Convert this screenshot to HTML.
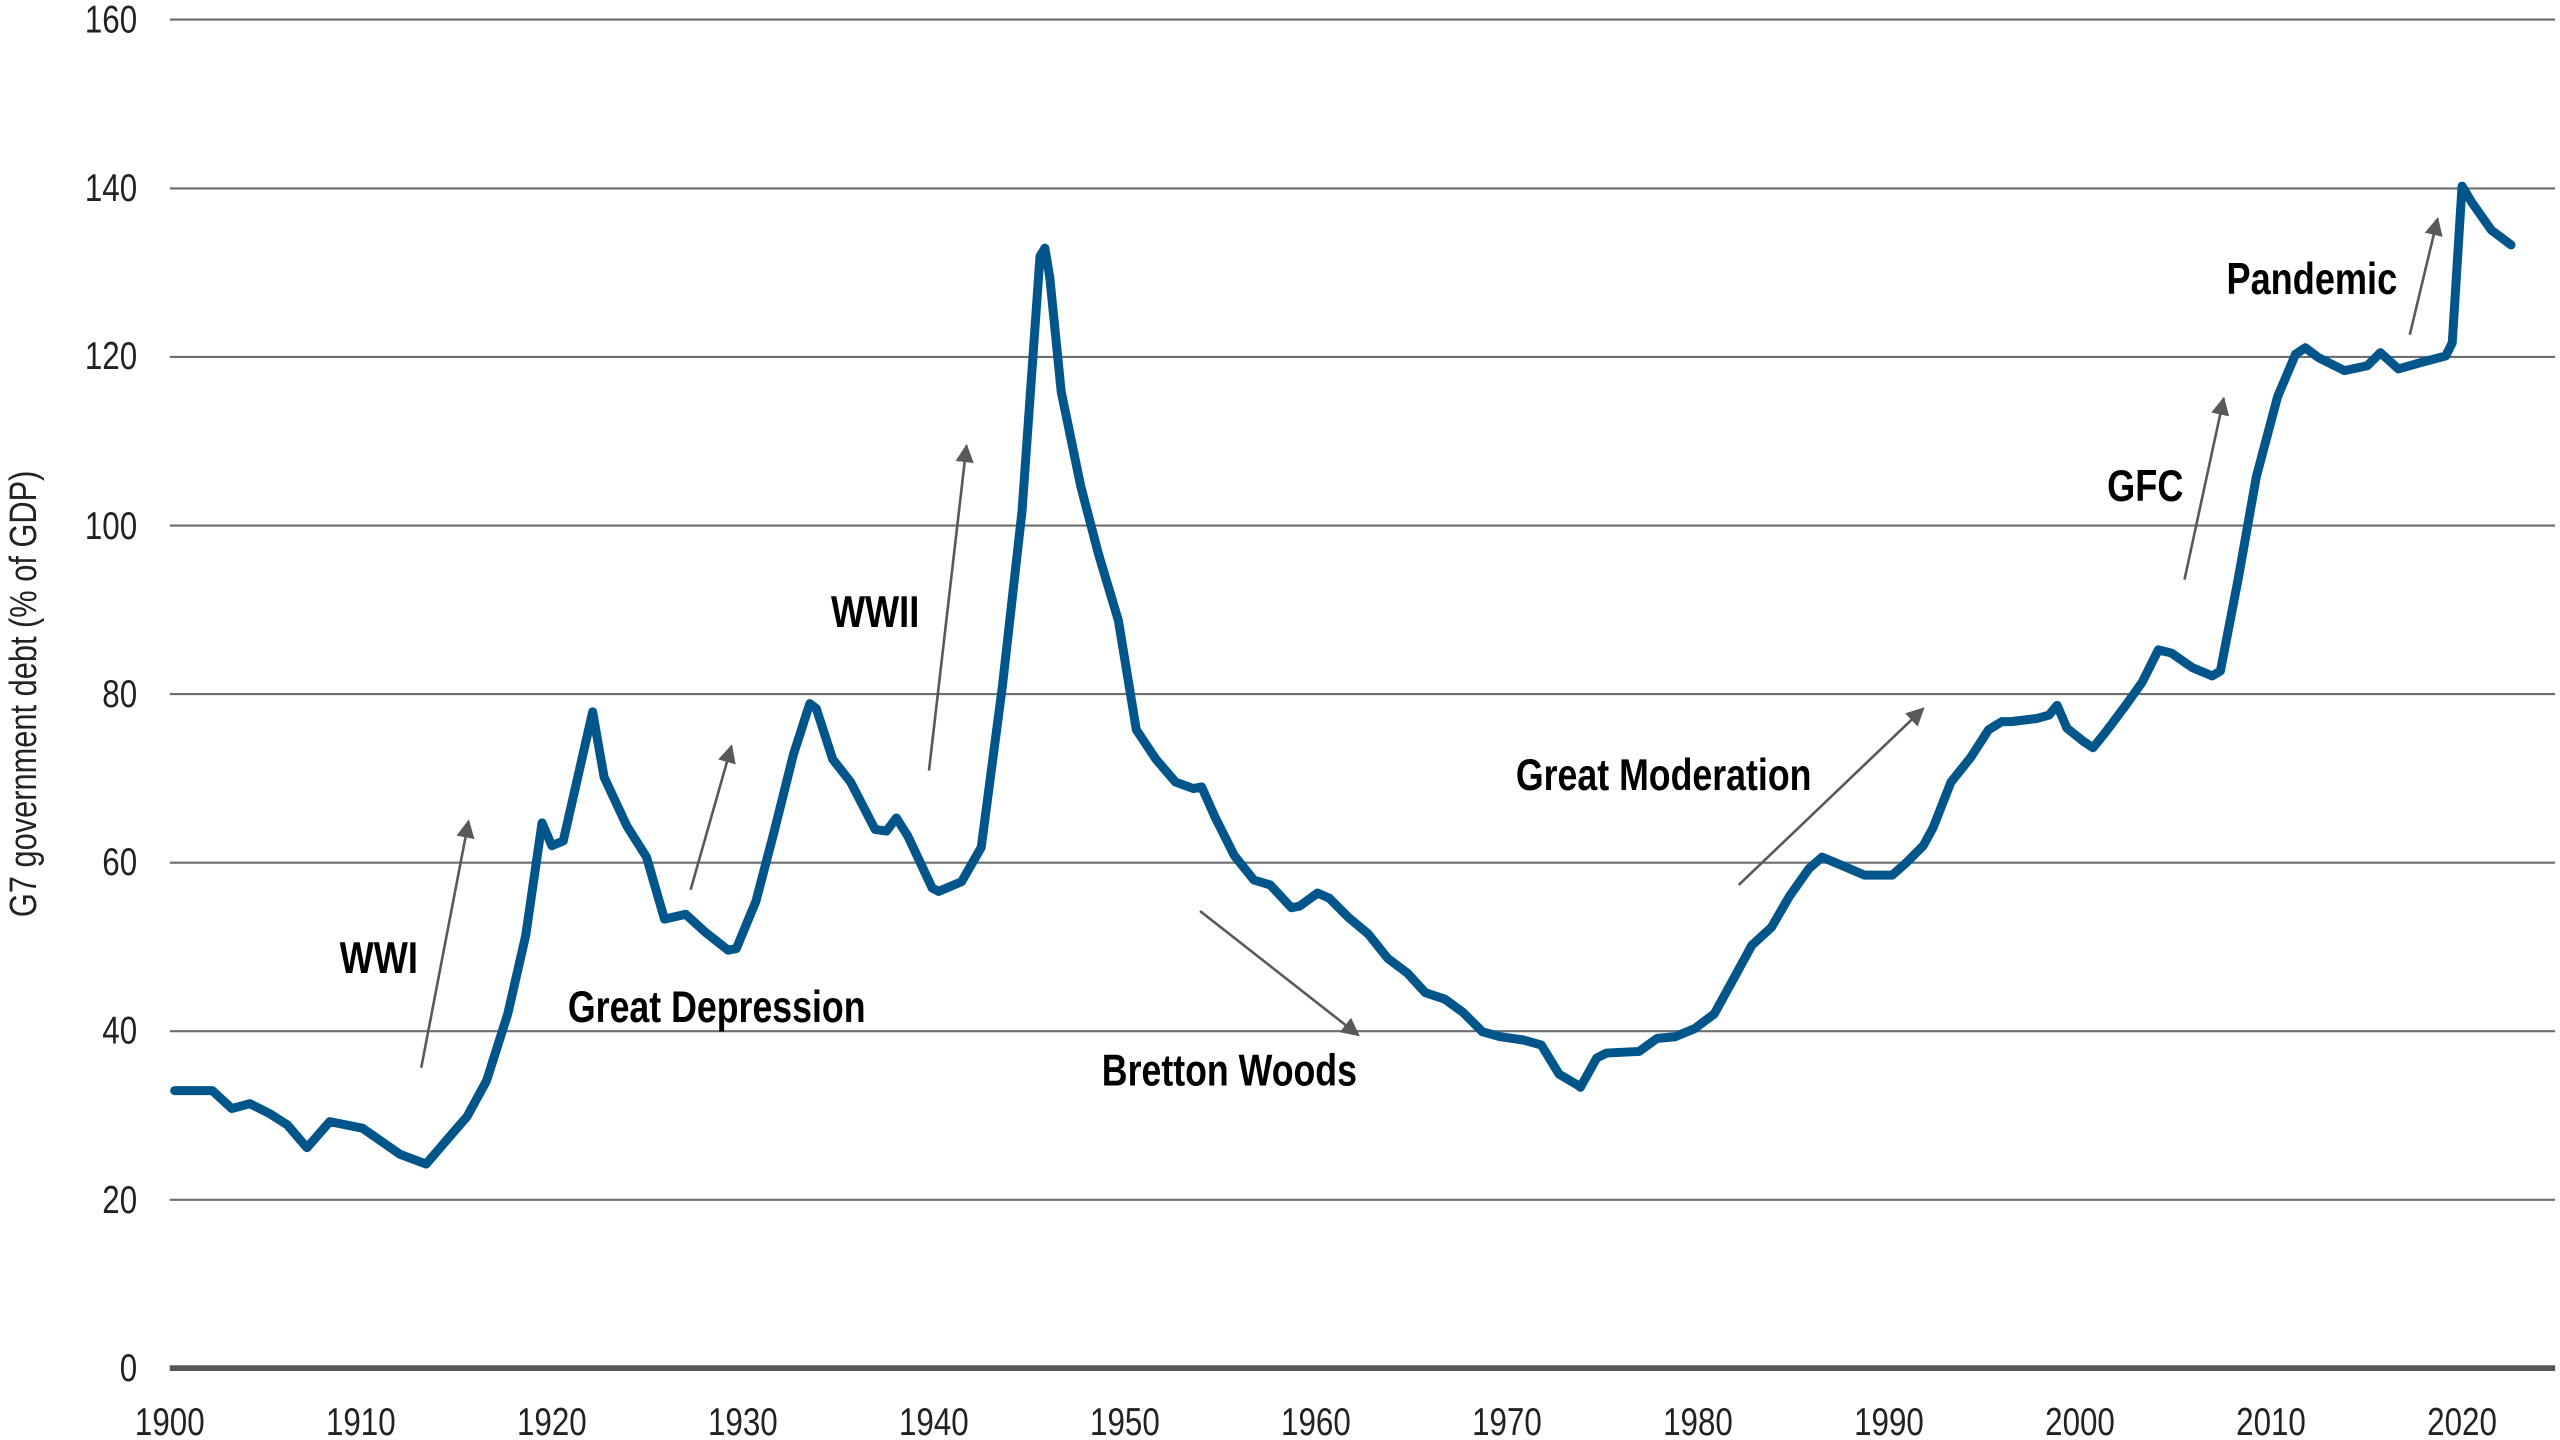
<!DOCTYPE html>
<html><head><meta charset="utf-8"><style>
html,body{margin:0;padding:0;background:#fff;}
svg{display:block;}
text{font-family:"Liberation Sans",sans-serif;}
</style></head><body>
<svg width="2560" height="1440" viewBox="0 0 1568 882" xmlns="http://www.w3.org/2000/svg">
<defs><marker id="ah" viewBox="0 0 10 10" refX="9" refY="5" markerWidth="7" markerHeight="7" orient="auto" markerUnits="strokeWidth"><path d="M0,0 L10,5 L0,10 z" fill="#58595b"/></marker></defs>
<g stroke="#6d6e71" stroke-width="1.3">
<line x1="104" y1="12" x2="1565" y2="12"/>
<line x1="104" y1="115.4" x2="1565" y2="115.4"/>
<line x1="104" y1="218.6" x2="1565" y2="218.6"/>
<line x1="104" y1="321.9" x2="1565" y2="321.9"/>
<line x1="104" y1="425.1" x2="1565" y2="425.1"/>
<line x1="104" y1="528.4" x2="1565" y2="528.4"/>
<line x1="104" y1="631.6" x2="1565" y2="631.6"/>
<line x1="104" y1="734.9" x2="1565" y2="734.9"/>
</g>
<line x1="104" y1="838" x2="1565" y2="838" stroke="#54565a" stroke-width="3.5"/>
<g font-size="24" text-anchor="end" fill="#222">
<g transform="scale(0.8,1)">
<text x="105" y="20">160</text><text x="105" y="123">140</text><text x="105" y="226">120</text><text x="105" y="330">100</text><text x="105" y="433">80</text><text x="105" y="536">60</text><text x="105" y="639">40</text><text x="105" y="743">20</text><text x="105" y="846">0</text>
</g></g>
<g font-size="24" text-anchor="middle" fill="#222"><g transform="scale(0.8,1)">
<text x="130" y="879">1900</text><text x="276.25" y="879">1910</text><text x="422.5" y="879">1920</text><text x="568.75" y="879">1930</text><text x="715" y="879">1940</text><text x="861.25" y="879">1950</text><text x="1007.5" y="879">1960</text><text x="1153.75" y="879">1970</text><text x="1300" y="879">1980</text><text x="1446.25" y="879">1990</text><text x="1592.5" y="879">2000</text><text x="1738.75" y="879">2010</text><text x="1885" y="879">2020</text>
</g></g>
<text transform="translate(22,425) rotate(-90) scale(0.82,1)" font-size="23" text-anchor="middle" fill="#222">G7 government debt (% of GDP)</text>
<polyline fill="none" stroke="#00568a" stroke-width="5.5" stroke-linejoin="round" stroke-linecap="round" points="107,668 130,668 142,679 153,676 165,682 176,689 188,703 202,687 222,691 245,707 261,713 273,699 286,684 298,662 311,621 322,573 332,504 338,518 345,515 363,436 370,476 384,506 396,525 407,563 420,560 432,571 446,582 451,581 463,552 474,510 486,462 496,431 500,434 510,465 521,479 536,508 543,509 549,501 556,512 571,544 575,546 589,540 601,519 614,420 626,313 637,157 640,152 643,170 650,240 662,298 673,340 685,380 696,447 708,465 720,479 731,483 736,482 744,500 756,524 768,539 778,542 791,556 796,555 807,547 814,550 826,562 838,572 850,587 862,596 873,608 885,612 896,620 908,632 919,635 933,637 944,640 955,658 967,665 968,666 978,648 984,645 1004,644 1015,636 1026,635 1038,630 1050,621 1061,601 1073,579 1085,568 1096,549 1108,532 1116,525 1128,530 1142,536 1159,536 1167,529 1178,518 1184,507 1195,479 1207,464 1218,447 1226,442 1232,442 1248,440 1255,438 1260,432 1266,446 1276,454 1282,458 1290,448 1302,432 1312,418 1322,398 1330,400 1343,409 1355,414 1360,411 1371,354 1382,292 1395,243 1406,217 1412,213 1420,219 1436,227 1450,224 1458,216 1469,226 1483,222 1498,218 1502,210 1508,114 1514,124 1526,141 1538,150"/>
<g stroke="#58595b" stroke-width="1.6" marker-end="url(#ah)">
<line x1="258" y1="654" x2="287" y2="503"/>
<line x1="423" y1="545" x2="448" y2="457"/>
<line x1="569" y1="472" x2="592" y2="273"/>
<line x1="735" y1="558" x2="832" y2="634"/>
<line x1="1065" y1="542" x2="1178" y2="434"/>
<line x1="1338" y1="355" x2="1362" y2="244"/>
<line x1="1476" y1="205" x2="1493" y2="134"/>
</g>
<g font-size="27" font-weight="bold" text-anchor="middle" fill="#000">
<text transform="translate(232,596) scale(0.82,1)">WWI</text>
<text transform="translate(439,626) scale(0.81,1)">Great Depression</text>
<text transform="translate(536,384) scale(0.82,1)">WWII</text>
<text transform="translate(753,665) scale(0.81,1)">Bretton Woods</text>
<text transform="translate(1019,484) scale(0.81,1)">Great Moderation</text>
<text transform="translate(1314,307) scale(0.82,1)">GFC</text>
<text transform="translate(1416,180) scale(0.82,1)">Pandemic</text>
</g>
</svg>
</body></html>
